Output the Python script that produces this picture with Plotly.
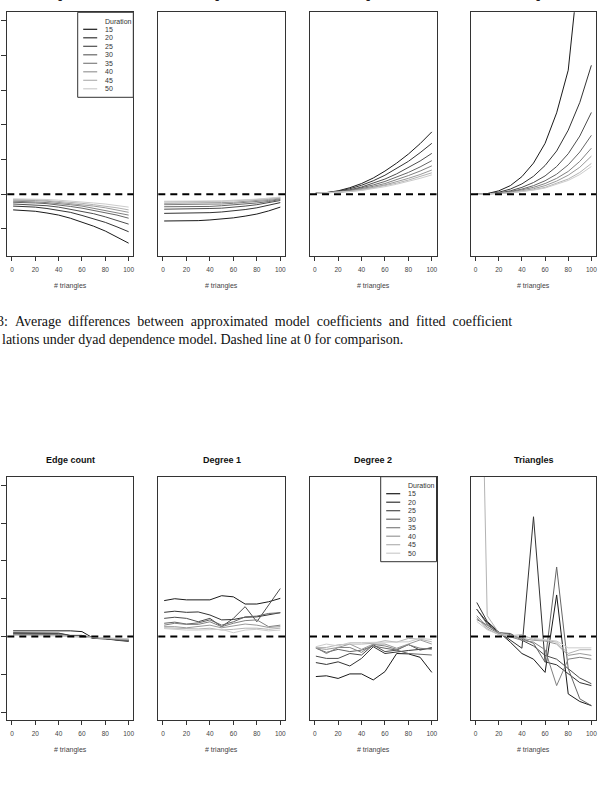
import plotly.graph_objects as go

W, H = 603, 790

# ---------------- data ----------------
x_pts = [1, 10, 20, 30, 40, 50, 60, 70, 80, 90, 100]
durations = ["15", "20", "25", "30", "35", "40", "45", "50"]
panel_titles = ["Edge count", "Degree 1", "Degree 2", "Triangles"]
x_ticks = [0, 20, 40, 60, 80, 100]
top_y_ticks = [-1, 0, 1, 2, 3, 4, 5]
bot_y_ticks = [-2, -1, 0, 1, 2, 3, 4]

# Figure 3 (top row): average differences
top_edge = [
    [-0.45, -0.46, -0.49, -0.54, -0.60, -0.69, -0.80, -0.92, -1.06, -1.23, -1.41],
    [-0.34, -0.35, -0.37, -0.41, -0.46, -0.52, -0.61, -0.70, -0.81, -0.94, -1.08],
    [-0.28, -0.29, -0.30, -0.33, -0.37, -0.43, -0.49, -0.56, -0.65, -0.75, -0.86],
    [-0.23, -0.23, -0.25, -0.27, -0.30, -0.35, -0.40, -0.46, -0.52, -0.60, -0.69],
    [-0.20, -0.20, -0.22, -0.24, -0.26, -0.30, -0.34, -0.40, -0.46, -0.52, -0.60],
    [-0.17, -0.17, -0.18, -0.20, -0.23, -0.26, -0.30, -0.34, -0.39, -0.45, -0.52],
    [-0.15, -0.15, -0.16, -0.18, -0.20, -0.23, -0.26, -0.30, -0.34, -0.39, -0.45],
    [-0.13, -0.13, -0.14, -0.15, -0.17, -0.19, -0.22, -0.25, -0.28, -0.32, -0.37],
]
top_deg1 = [
    [-0.77, -0.77, -0.77, -0.76, -0.74, -0.72, -0.68, -0.63, -0.57, -0.48, -0.37],
    [-0.55, -0.55, -0.55, -0.54, -0.53, -0.51, -0.48, -0.44, -0.39, -0.32, -0.24],
    [-0.43, -0.43, -0.43, -0.42, -0.41, -0.40, -0.38, -0.34, -0.30, -0.25, -0.18],
    [-0.36, -0.36, -0.36, -0.35, -0.35, -0.33, -0.31, -0.29, -0.25, -0.21, -0.15],
    [-0.30, -0.30, -0.30, -0.30, -0.29, -0.28, -0.26, -0.24, -0.21, -0.18, -0.13],
    [-0.26, -0.26, -0.26, -0.26, -0.25, -0.24, -0.23, -0.21, -0.18, -0.15, -0.11],
    [-0.22, -0.22, -0.22, -0.22, -0.21, -0.20, -0.19, -0.18, -0.15, -0.13, -0.09],
    [-0.20, -0.20, -0.20, -0.20, -0.19, -0.19, -0.17, -0.16, -0.14, -0.11, -0.08],
]
top_deg2 = [
    [0.03, 0.05, 0.10, 0.19, 0.31, 0.47, 0.67, 0.90, 1.16, 1.46, 1.80],
    [0.03, 0.04, 0.09, 0.16, 0.26, 0.39, 0.55, 0.74, 0.95, 1.20, 1.47],
    [0.03, 0.04, 0.08, 0.13, 0.21, 0.32, 0.44, 0.59, 0.77, 0.96, 1.18],
    [0.03, 0.04, 0.07, 0.11, 0.18, 0.27, 0.37, 0.49, 0.63, 0.79, 0.97],
    [0.03, 0.04, 0.06, 0.10, 0.16, 0.23, 0.31, 0.42, 0.54, 0.67, 0.82],
    [0.03, 0.04, 0.06, 0.09, 0.14, 0.20, 0.27, 0.36, 0.46, 0.57, 0.70],
    [0.03, 0.04, 0.05, 0.08, 0.12, 0.18, 0.24, 0.32, 0.41, 0.51, 0.62],
    [0.03, 0.04, 0.05, 0.08, 0.11, 0.16, 0.22, 0.29, 0.37, 0.46, 0.56],
]
top_tri = [
    [0.00, 0.02, 0.10, 0.25, 0.51, 0.90, 1.47, 2.35, 3.58, 6.30, 10.0],
    [0.00, 0.01, 0.06, 0.15, 0.30, 0.52, 0.83, 1.25, 1.85, 2.65, 3.72],
    [0.00, 0.01, 0.04, 0.10, 0.20, 0.34, 0.53, 0.80, 1.17, 1.68, 2.36],
    [0.00, 0.01, 0.03, 0.08, 0.15, 0.25, 0.39, 0.58, 0.85, 1.22, 1.70],
    [0.00, 0.01, 0.03, 0.06, 0.12, 0.20, 0.31, 0.46, 0.66, 0.95, 1.33],
    [0.00, 0.01, 0.02, 0.05, 0.10, 0.16, 0.25, 0.38, 0.55, 0.78, 1.10],
    [0.00, 0.00, 0.02, 0.04, 0.08, 0.13, 0.20, 0.31, 0.44, 0.63, 0.89],
    [0.00, 0.00, 0.02, 0.04, 0.07, 0.12, 0.18, 0.28, 0.40, 0.57, 0.80],
]

# Figure 4 (bottom row): percent deviations
bot_edge = [
    [0.15, 0.15, 0.16, 0.16, 0.16, 0.15, 0.13, -0.05, -0.06, -0.08, -0.11],
    [0.10, 0.10, 0.10, 0.10, 0.09, 0.03, 0.03, -0.05, -0.06, -0.10, -0.13],
    [0.08, 0.08, 0.08, 0.08, 0.08, 0.02, 0.02, -0.04, -0.05, -0.09, -0.12],
    [0.06, 0.06, 0.06, 0.06, 0.05, 0.01, 0.01, -0.04, -0.05, -0.08, -0.10],
    [0.05, 0.05, 0.05, 0.04, 0.04, 0.01, 0.00, -0.03, -0.04, -0.07, -0.09],
    [0.04, 0.04, 0.04, 0.03, 0.03, 0.00, 0.00, -0.03, -0.04, -0.06, -0.08],
    [0.03, 0.03, 0.03, 0.03, 0.02, 0.00, -0.01, -0.02, -0.03, -0.05, -0.07],
    [0.03, 0.02, 0.02, 0.02, 0.02, 0.00, -0.01, -0.02, -0.03, -0.05, -0.06],
]
bot_deg1 = [
    [0.95, 1.00, 0.97, 0.97, 0.97, 1.08, 1.05, 0.86, 0.86, 0.92, 1.01],
    [0.64, 0.67, 0.64, 0.65, 0.57, 0.44, 0.45, 0.51, 0.52, 0.58, 0.63],
    [0.48, 0.51, 0.48, 0.39, 0.48, 0.26, 0.48, 0.79, 0.39, 0.83, 1.27],
    [0.35, 0.38, 0.33, 0.36, 0.44, 0.30, 0.39, 0.52, 0.54, 0.61, 0.63],
    [0.30, 0.35, 0.32, 0.32, 0.39, 0.26, 0.35, 0.42, 0.44, 0.26, 0.30],
    [0.26, 0.26, 0.23, 0.26, 0.30, 0.23, 0.28, 0.33, 0.30, 0.24, 0.26],
    [0.23, 0.22, 0.22, 0.20, 0.22, 0.17, 0.19, 0.22, 0.22, 0.19, 0.22],
    [0.21, 0.19, 0.17, 0.17, 0.17, 0.19, 0.10, 0.17, 0.19, 0.15, 0.17],
]
bot_deg2 = [
    [-1.06, -1.04, -1.11, -0.99, -0.99, -1.15, -0.93, -0.45, -0.46, -0.55, -0.95],
    [-0.69, -0.74, -0.67, -0.78, -0.58, -0.27, -0.45, -0.40, -0.37, -0.34, -0.31],
    [-0.52, -0.58, -0.58, -0.45, -0.49, -0.22, -0.40, -0.36, -0.21, -0.36, -0.29],
    [-0.31, -0.42, -0.34, -0.40, -0.36, -0.25, -0.31, -0.36, -0.45, -0.46, -0.49],
    [-0.29, -0.45, -0.29, -0.29, -0.42, -0.21, -0.25, -0.34, -0.22, -0.31, -0.34],
    [-0.31, -0.34, -0.29, -0.20, -0.34, -0.20, -0.20, -0.31, -0.20, -0.09, -0.20],
    [-0.29, -0.29, -0.22, -0.20, -0.20, -0.18, -0.11, -0.15, -0.05, -0.07, -0.14],
    [-0.27, -0.20, -0.25, -0.16, -0.16, -0.16, -0.16, -0.16, -0.14, -0.05, -0.08],
]
bot_tri = [
    [0.72, 0.37, 0.12, -0.15, -0.45, -0.60, -0.95, 1.10, -1.52, -1.72, -1.83],
    [0.90, 0.40, 0.12, -0.09, -0.31, 3.17, -0.67, -0.75, -0.98, -1.22, -1.30],
    [0.72, 0.33, 0.10, 0.08, -0.10, -0.25, -0.50, -0.60, -0.85, -1.10, -1.25],
    [0.45, 0.30, 0.10, 0.05, -0.05, -0.18, -0.68, 1.84, -0.85, -1.65, -1.83],
    [0.55, 0.25, 0.08, 0.00, -0.10, -0.15, -0.35, -1.30, -0.60, -0.55, -0.60],
    [0.50, 0.20, 0.05, 0.00, -0.05, -0.10, -0.12, -0.20, -0.50, -0.45, -0.50],
    [14.0, 0.55, 0.10, 0.02, 0.05, -0.08, -0.10, -0.15, -0.45, -0.35, -0.35],
    [0.40, 0.18, 0.05, 0.02, 0.00, -0.05, -0.08, -0.12, -0.30, -0.30, -0.30],
]

caption3_l1 = "3: Average differences between approximated model coefficients and fitted coefficient"
caption3_l2 = "lations under dyad dependence model. Dashed line at 0 for comparison."
caption4_l1 = "4: Percent deviations of approximated model coefficients from fitted"

# ---------------- styling / layout ----------------
line_colors = ["#1a1a1a", "#333333", "#4d4d4d", "#666666",
               "#808080", "#999999", "#b3b3b3", "#cccccc"]
panel_x_px = [(7.3, 133.3), (158.3, 285.0), (310.0, 436.5), (471.0, 596.0)]
top_y_px = (12.3, 256.0)
bot_y_px = (476.7, 720.0)
top_range = [-1.78, 5.25]
bot_range = [-2.21, 4.23]
x_range = [-4, 104]

SANS = "Liberation Sans, Arial, sans-serif"
SERIF = "Liberation Serif, Times New Roman, serif"
CAP_SIZE = 14
NBSP = "\u00a0"


def px_x(px):
    return px / W


def px_y(py):
    return 1 - py / H


def justified(text, n_space):
    # emulate the stretched inter-word spacing of a justified text line
    return (NBSP * n_space).join(text.split(" "))


fig = go.Figure()
panels = [top_edge, top_deg1, top_deg2, top_tri, bot_edge, bot_deg1, bot_deg2, bot_tri]

layout = dict(
    width=W, height=H, margin=dict(l=0, r=0, t=0, b=0),
    paper_bgcolor="white", plot_bgcolor="white", showlegend=False,
)
shapes = []
annotations = []

for i, series in enumerate(panels):
    n = i + 1
    xa = "x" if n == 1 else f"x{n}"
    ya = "y" if n == 1 else f"y{n}"
    col = i % 4
    is_top = i < 4
    ypx = top_y_px if is_top else bot_y_px
    for k, vals in enumerate(series):
        fig.add_trace(go.Scatter(
            x=x_pts, y=vals, mode="lines", xaxis=xa, yaxis=ya,
            line=dict(color=line_colors[k], width=1),
            name=durations[k], hoverinfo="skip",
        ))
    x0, x1 = panel_x_px[col]
    layout[f"xaxis{'' if n == 1 else n}"] = dict(
        domain=[px_x(x0), px_x(x1)], anchor=ya, range=x_range,
        showgrid=False, zeroline=False, showline=True, mirror=True,
        linecolor="#333333", linewidth=1,
        tickmode="array", tickvals=x_ticks, ticks="outside", ticklen=4,
        tickcolor="#333333", tickfont=dict(family=SANS, size=6.5, color="#444444"),
        ticklabelstandoff=3,
    )
    yrange = top_range if is_top else bot_range
    yticks = top_y_ticks if is_top else bot_y_ticks
    layout[f"yaxis{'' if n == 1 else n}"] = dict(
        domain=[px_y(ypx[1]), px_y(ypx[0])], anchor=xa, range=yrange,
        showgrid=False, zeroline=False, showline=True, mirror=True,
        linecolor="#333333", linewidth=1,
        tickmode="array", tickvals=yticks,
        ticks="outside" if col == 0 else "", ticklen=5, tickcolor="#333333",
        showticklabels=False,
    )
    # dashed reference line at 0
    shapes.append(dict(type="line", xref=f"{xa} domain", yref=ya,
                       x0=0, x1=1, y0=0, y1=0,
                       line=dict(color="black", width=2, dash="7px,5px")))
    # x axis title
    cx = (x0 + x1) / 2
    ty = 286 if is_top else 750
    annotations.append(dict(text="# triangles", x=px_x(cx), y=px_y(ty),
                            xref="paper", yref="paper", showarrow=False,
                            xanchor="center", yanchor="middle",
                            font=dict(family=SANS, size=7, color="#444444")))
    # panel title (top row titles lie mostly above the cropped page edge)
    tt = -3.5 if is_top else 460
    annotations.append(dict(text=f"<b>{panel_titles[col]}</b>", x=px_x(cx), y=px_y(tt),
                            xref="paper", yref="paper", showarrow=False,
                            xanchor="center", yanchor="middle",
                            font=dict(family=SANS, size=9, color="#111111")))


def add_legend(box_l, box_t, box_r):
    box_b = box_t + 85
    shapes.append(dict(type="rect", xref="paper", yref="paper",
                       x0=px_x(box_l), x1=px_x(box_r), y0=px_y(box_b), y1=px_y(box_t),
                       line=dict(color="#333333", width=1), fillcolor="white"))
    annotations.append(dict(text="Duration", x=px_x(box_l + 25.5), y=px_y(box_t + 8.7),
                            xref="paper", yref="paper", showarrow=False,
                            xanchor="left", yanchor="middle",
                            font=dict(family=SANS, size=7, color="#333333")))
    for k, d in enumerate(durations):
        yy = box_t + 17 + 8.5 * k
        shapes.append(dict(type="line", xref="paper", yref="paper",
                           x0=px_x(box_l + 5.5), x1=px_x(box_l + 19.5),
                           y0=px_y(yy), y1=px_y(yy),
                           line=dict(color=line_colors[k], width=1.2)))
        annotations.append(dict(text=d, x=px_x(box_l + 25.5), y=px_y(yy),
                                xref="paper", yref="paper", showarrow=False,
                                xanchor="left", yanchor="middle",
                                font=dict(family=SANS, size=7, color="#333333")))


add_legend(77.7, 12.3, 133.3)
add_legend(380.7, 476.7, 436.5)

# captions (page text, cropped at the left and bottom edges)
for txt, xx, yy, gap in [(caption3_l1, -5, 322, 2), (caption3_l2, 0, 339, 1),
                         (caption4_l1, -3, 798, 2)]:
    annotations.append(dict(text=justified(txt, gap), x=px_x(xx), y=px_y(yy),
                            xref="paper", yref="paper",
                            showarrow=False, xanchor="left", yanchor="middle",
                            font=dict(family=SERIF, size=CAP_SIZE, color="#111111")))

layout["shapes"] = shapes
layout["annotations"] = annotations
fig.update_layout(**layout)
fig.write_html("out.html")
